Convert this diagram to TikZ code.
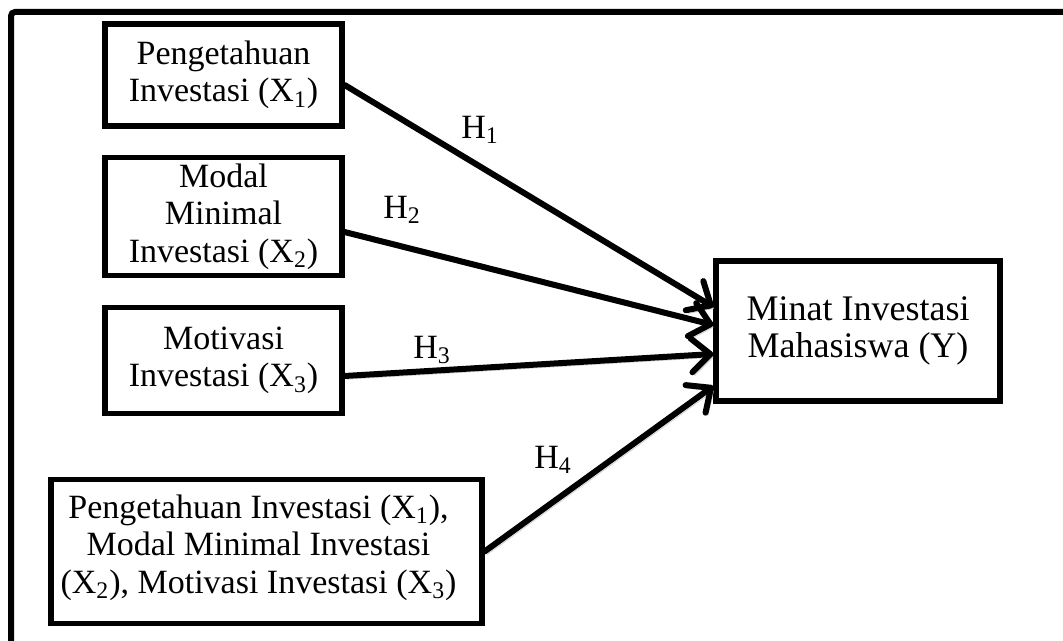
\documentclass[tikz,border=0pt]{standalone}
\usepackage{fontspec}
\setmainfont{Liberation Serif}
\usetikzlibrary{arrows.meta}
\begin{document}
\begin{tikzpicture}[x=0.5pt, y=-0.5pt,
    box/.style={rectangle, draw, line width=2.6pt, align=center, inner sep=0pt, font=\fontsize{17}{18.75}\selectfont},
    boxtext/.style={inner sep=0pt, align=center, font=\fontsize{17}{18.75}\selectfont},
    hlabel/.style={inner sep=0pt, font=\fontsize{17}{18.75}\selectfont},
    arr/.style={line width=3pt, line cap=round, -{Straight Barb[length=9.5pt, width=17pt, line cap=round, line join=round]},
      preaction={draw=black!18, transform canvas={shift={(1.2pt,-1.6pt)}}}}
]
  \useasboundingbox (0,0) rectangle (1063,641);
  \draw[line width=3pt, rounded corners=2pt] (11,641) -- (11,12) -- (1063,12);

  \node[box, minimum width=118.5pt, minimum height=51pt] (pengetahuan) at (223.5,75) {Pengetahuan\\Investasi (X\textsubscript{1})};
  \node[box, minimum width=118.5pt, minimum height=59pt] (modal) at (223.5,216.5) {Modal\\Minimal\\Investasi (X\textsubscript{2})};
  \node[box, minimum width=118.5pt, minimum height=53pt] (motivasi) at (223.5,360.5) {Motivasi\\Investasi (X\textsubscript{3})};
  \node[box, minimum width=215.5pt, minimum height=72pt] (gabungan) at (266.5,551.5) {};
  \node[boxtext] (gabunganisi) at ([xshift=-4pt, yshift=2pt]gabungan.center) {Pengetahuan Investasi (X\textsubscript{1}),\\Modal Minimal Investasi\\(X\textsubscript{2}), Motivasi Investasi (X\textsubscript{3})};
  \node[box, minimum width=142pt, minimum height=70pt, font=\fontsize{18}{18.75}\selectfont] (minat) at (858,331) {Minat Investasi\\Mahasiswa (Y)};

  \node[hlabel] (h1) at (480,130) {H\textsubscript{1}};
  \node[hlabel] (h2) at (402,210) {H\textsubscript{2}};
  \node[hlabel] (h3) at (432,350) {H\textsubscript{3}};
  \node[hlabel] (h4) at (553,460) {H\textsubscript{4}};

  \draw[arr] ([yshift=-5pt]pengetahuan.east) -- ([yshift=12pt]minat.west);
  \draw[arr] ([yshift=-7.75pt]modal.east) -- ([yshift=3pt]minat.west);
  \draw[arr] ([yshift=-7.75pt]motivasi.east) -- ([yshift=-11.5pt]minat.west);
  \draw[arr] (gabungan.east) -- ([yshift=-27.5pt]minat.west);
\end{tikzpicture}
\end{document}
